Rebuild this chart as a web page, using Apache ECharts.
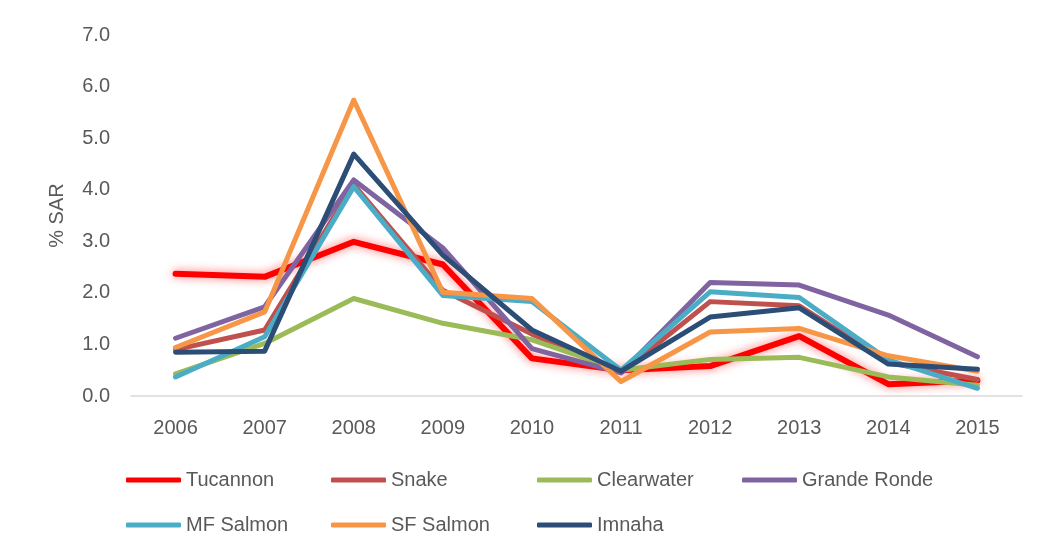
<!DOCTYPE html>
<html>
<head>
<meta charset="utf-8">
<script src="https://cdn.jsdelivr.net/npm/echarts@6/dist/echarts.min.js"></script>
<style>
  html, body { margin: 0; padding: 0; background: #fff; }
  #chart { width: 1039px; height: 556px; }
</style>
</head>
<body>
<div id="chart"></div>
<script>
  // 年份
  const years = ["2006", "2007", "2008", "2009", "2010", "2011", "2012", "2013", "2014", "2015"];
  // 各河流 % SAR
  const tucannon = [2.37, 2.31, 2.99, 2.55, 0.73, 0.5, 0.58, 1.16, 0.23, 0.3];
  const snake = [0.9, 1.28, 4.1, 2.05, 1.2, 0.45, 1.83, 1.75, 0.65, 0.32];
  const clearwater = [0.43, 1.02, 1.89, 1.41, 1.09, 0.5, 0.71, 0.75, 0.37, 0.21];
  const grandeRonde = [1.12, 1.73, 4.19, 2.87, 0.92, 0.45, 2.2, 2.15, 1.57, 0.76];
  const mfSalmon = [0.37, 1.15, 4.06, 1.95, 1.83, 0.5, 2.02, 1.91, 0.7, 0.15];
  const sfSalmon = [0.94, 1.63, 5.74, 2.01, 1.89, 0.28, 1.24, 1.31, 0.78, 0.48];
  const imnaha = [0.85, 0.87, 4.69, 2.73, 1.28, 0.48, 1.53, 1.71, 0.62, 0.52];
  const yTicks = [0, 1, 2, 3, 4, 5, 6, 7];

  const textColor = "#595959";
  const font = "'Liberation Sans', Arial, sans-serif";
  const fontSize = 20;

  const mkLine = (name, data, color, extra) => Object.assign({
    name: name,
    type: "line",
    data: data,
    symbol: "none",
    lineStyle: { color: color, width: 5, cap: "round", join: "round" },
    itemStyle: { color: color }
  }, extra || {});

  // 图例位置（每项单独一个）
  const legendPos = [
    ["Tucannon", 126, 470], ["Snake", 331, 470], ["Clearwater", 537, 470], ["Grande Ronde", 742, 470],
    ["MF Salmon", 126, 515], ["SF Salmon", 331, 515], ["Imnaha", 537, 515]
  ];
  const legends = legendPos.map(([name, left, top]) => ({
    data: [name],
    left: left,
    top: top,
    padding: 0,
    itemWidth: 55,
    itemHeight: 5,
    icon: "roundRect",
    textStyle: { color: textColor, fontSize: fontSize, fontFamily: font }
  }));

  const chart = echarts.init(document.getElementById("chart"));
  chart.setOption({
    backgroundColor: "#fff",
    animation: false,
    grid: { left: 131, right: 17, top: 35, bottom: 160 },
    legend: legends,
    xAxis: {
      type: "category",
      data: years,
      boundaryGap: true,
      axisLine: { lineStyle: { color: "#d9d9d9", width: 1.5 } },
      axisTick: { show: false },
      axisLabel: { color: textColor, fontSize: fontSize, fontFamily: font, margin: 22 }
    },
    yAxis: {
      type: "value",
      min: yTicks[0],
      max: yTicks[yTicks.length - 1],
      interval: 1,
      name: "% SAR",
      nameLocation: "middle",
      nameGap: 64,
      nameTextStyle: { color: textColor, fontSize: fontSize, fontFamily: font },
      axisLine: { show: false },
      axisTick: { show: false },
      splitLine: { show: false },
      axisLabel: {
        color: textColor, fontSize: fontSize, fontFamily: font, margin: 21,
        formatter: (v) => v.toFixed(1)
      }
    },
    series: [
      mkLine("Tucannon", tucannon, "#ff0000", {
        lineStyle: {
          color: "#ff0000", width: 6, cap: "round", join: "round",
          shadowColor: "rgba(255,0,0,0.55)", shadowBlur: 10
        }
      }),
      mkLine("Snake", snake, "#c0504d"),
      mkLine("Clearwater", clearwater, "#9bbb59"),
      mkLine("Grande Ronde", grandeRonde, "#8064a2"),
      mkLine("MF Salmon", mfSalmon, "#4bacc6"),
      mkLine("SF Salmon", sfSalmon, "#f79646"),
      mkLine("Imnaha", imnaha, "#2c4d75")
    ]
  });
</script>
</body>
</html>
